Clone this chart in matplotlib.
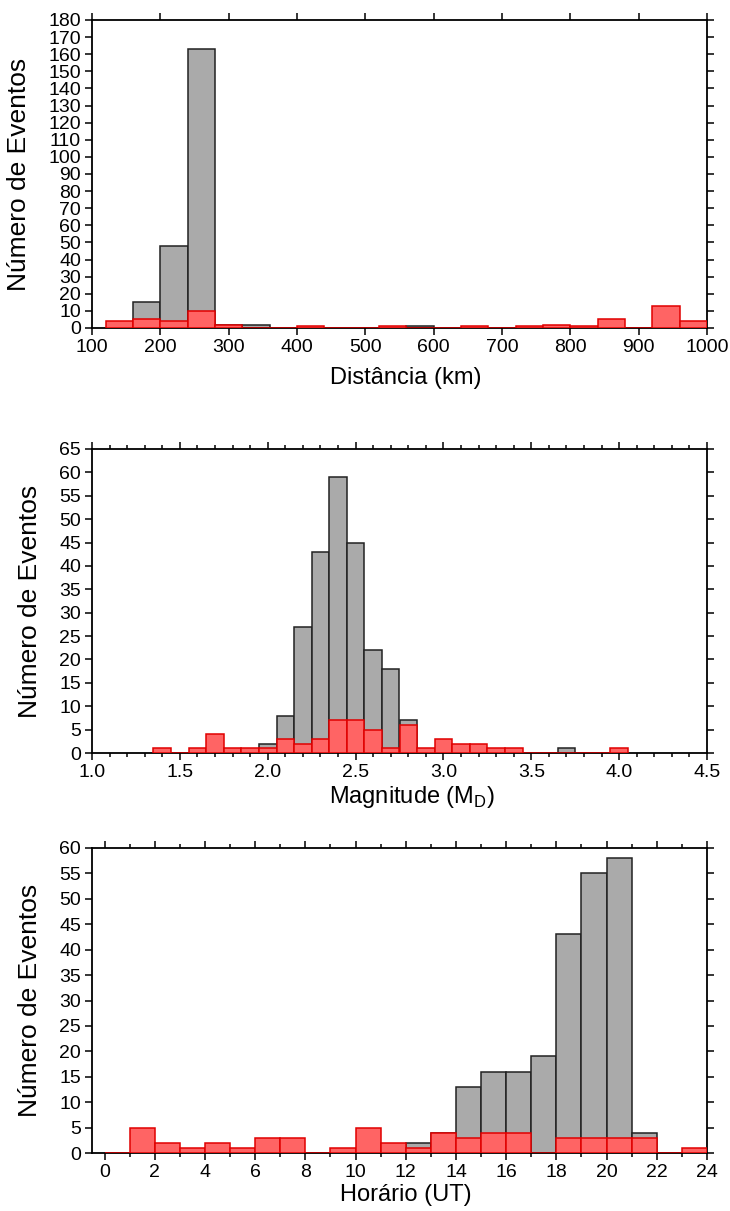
import numpy as np
import matplotlib
matplotlib.use("Agg")
import matplotlib.pyplot as plt
from matplotlib.ticker import MultipleLocator, FormatStrFormatter

# Distance histogram (40 km bins)
dist_edges = [120, 160, 200, 240, 280, 320, 360, 400, 440, 480, 520, 560, 600,
              640, 680, 720, 760, 800, 840, 880, 920, 960, 1000]
dist_all = [0, 15, 48, 163, 2, 2, 0, 0, 0, 0, 0, 1, 0, 0, 0, 0, 0, 0, 0, 0, 0, 0]
dist_sel = [4, 5, 4, 10, 2, 0, 0, 1, 0, 0, 1, 0, 0, 1, 0, 1, 2, 1, 5, 0, 13, 4]

# Magnitude histogram (0.1 bins centred on tenths)
mag_centers = [1.4, 1.5, 1.6, 1.7, 1.8, 1.9, 2.0, 2.1, 2.2, 2.3, 2.4, 2.5, 2.6,
               2.7, 2.8, 2.9, 3.0, 3.1, 3.2, 3.3, 3.4, 3.5, 3.6, 3.7, 3.8, 3.9, 4.0]
mag_all = [0, 0, 0, 0, 0, 0, 2, 8, 27, 43, 59, 45, 22, 18, 7, 0, 0, 0, 0, 0, 0,
           0, 0, 1, 0, 0, 0]
mag_sel = [1, 0, 1, 4, 1, 1, 1, 3, 2, 3, 7, 7, 5, 1, 6, 1, 3, 2, 2, 1, 1, 0, 0,
           0, 0, 0, 1]

# Hour histogram (1 h bins)
hour_edges = list(range(0, 25))
hour_all = [0, 0, 0, 0, 0, 0, 0, 0, 0, 0, 0, 0, 2, 4, 13, 16, 16, 19, 43, 55,
            58, 4, 0, 0]
hour_sel = [0, 5, 2, 1, 2, 1, 3, 3, 0, 1, 5, 2, 1, 4, 3, 4, 4, 0, 3, 3, 3, 3,
            0, 1]

plt.rcParams['font.family'] = ['Liberation Sans', 'DejaVu Sans']

GRAY = '#aaaaaa'
RED = '#ff6464'
W, H = 730, 1211

fig = plt.figure(figsize=(W / 100, H / 100), dpi=100)


def make_axes(top_px, bottom_px, left_px=92, right_px=707):
    return fig.add_axes([left_px / W, 1 - bottom_px / H,
                         (right_px - left_px) / W, (bottom_px - top_px) / H])


def hist_bars(ax, edges, all_counts, sel_counts):
    edges = np.asarray(edges, dtype=float)
    widths = np.diff(edges)
    ax.bar(edges[:-1], all_counts, width=widths, align='edge',
           color=GRAY, edgecolor='#222222', linewidth=1.1, zorder=2)
    ax.bar(edges[:-1], sel_counts, width=widths, align='edge',
           color=RED, edgecolor='#e00000', linewidth=1.1, zorder=3)


def style(ax, xlabel, label_x=0.51):
    for s in ax.spines.values():
        s.set_linewidth(1.3)
    ax.tick_params(which='both', direction='out', top=True, right=True,
                   labeltop=False, labelright=False, width=1.1)
    ax.tick_params(which='major', length=5, labelsize=14, pad=3)
    ax.tick_params(which='minor', length=3)
    ax.set_xlabel(xlabel, fontsize=17, labelpad=2)
    ax.xaxis.label.set_x(label_x)
    ax.set_ylabel('Número de Eventos', fontsize=19, labelpad=12)


# top: distance
ax1 = make_axes(20, 328)
hist_bars(ax1, dist_edges, dist_all, dist_sel)
ax1.set_xlim(100, 1000)
ax1.set_ylim(0, 180)
ax1.xaxis.set_major_locator(MultipleLocator(100))
ax1.yaxis.set_major_locator(MultipleLocator(10))
style(ax1, 'Distância (km)')
ax1.xaxis.labelpad = 8

# middle: magnitude
ax2 = make_axes(449, 753)
mag_edges = np.append(np.array(mag_centers) - 0.05, mag_centers[-1] + 0.05)
hist_bars(ax2, mag_edges, mag_all, mag_sel)
ax2.set_xlim(1.0, 4.5)
ax2.set_ylim(0, 65)
ax2.xaxis.set_major_locator(MultipleLocator(0.5))
ax2.xaxis.set_minor_locator(MultipleLocator(0.1))
ax2.yaxis.set_major_locator(MultipleLocator(5))
ax2.xaxis.set_major_formatter(FormatStrFormatter('%.1f'))
style(ax2, 'Magnitude (M$_\\mathregular{D}$)', label_x=0.52)

# bottom: hour
ax3 = make_axes(848, 1153)
hist_bars(ax3, hour_edges, hour_all, hour_sel)
ax3.set_xlim(-0.5, 24)
ax3.set_ylim(0, 60)
ax3.xaxis.set_major_locator(MultipleLocator(2))
ax3.xaxis.set_minor_locator(MultipleLocator(1))
ax3.yaxis.set_major_locator(MultipleLocator(5))
style(ax3, 'Horário (UT)')

fig.savefig('out.png', dpi=100)
